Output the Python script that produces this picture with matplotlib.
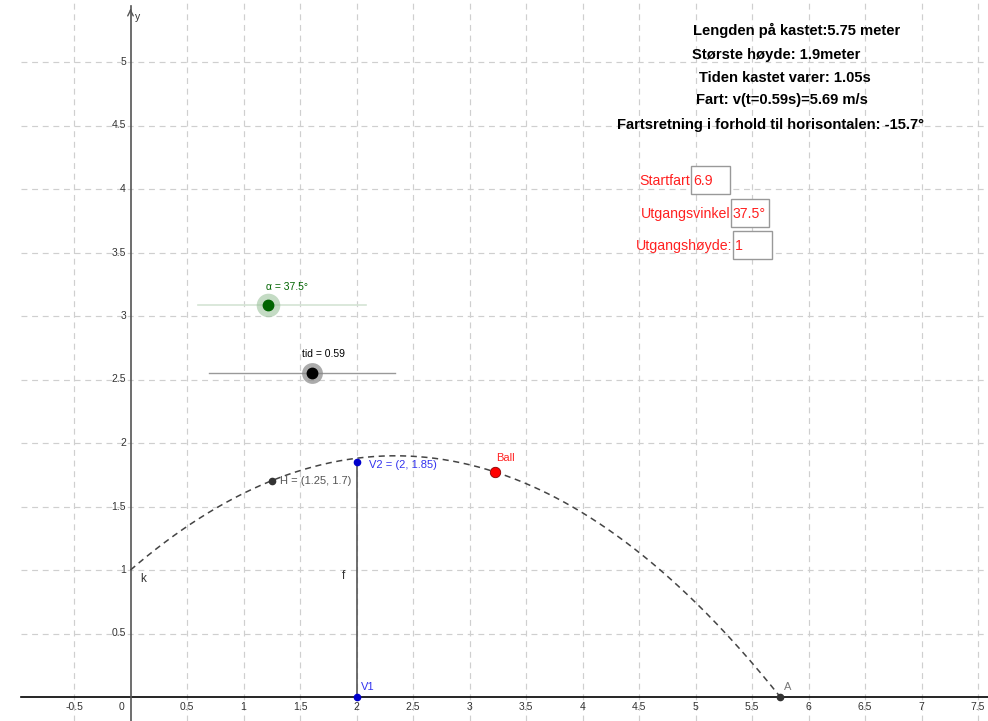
import numpy as np
import matplotlib
matplotlib.use("Agg")
import matplotlib.pyplot as plt
from matplotlib.patches import Rectangle

plt.rcParams['font.family'] = ['Liberation Sans', 'DejaVu Sans']

# ---- data ----
startfart = 6.9          # m/s
utgangsvinkel = 37.5     # degrees
utgangshoyde = 1.0       # m
tid = 0.59               # s
g = 9.81
H_point = (1.25, 1.7)
V2_point = (2, 1.85)
V1_point = (2, 0)
A_point = (5.75, 0)
alpha_slider_value = 37.5
x_tick_vals = [-0.5, 0, 0.5, 1, 1.5, 2, 2.5, 3, 3.5, 4, 4.5, 5, 5.5, 6, 6.5, 7, 7.5]
x_tick_labels = ["-0.5", "0", "0.5", "1", "1.5", "2", "2.5", "3", "3.5", "4", "4.5", "5", "5.5", "6", "6.5", "7", "7.5"]
y_tick_vals = [0.5, 1, 1.5, 2, 2.5, 3, 3.5, 4, 4.5, 5]
y_tick_labels = ["0.5", "1", "1.5", "2", "2.5", "3", "3.5", "4", "4.5", "5"]
info_lines = [
    "Lengden på kastet:5.75 meter",
    "Største høyde: 1.9meter",
    "Tiden kastet varer: 1.05s",
    "Fart: v(t=0.59s)=5.69 m/s",
    "Fartsretning i forhold til horisontalen: -15.7°",
]
input_labels = ["Startfart", "Utgangsvinkel", "Utgangshøyde:"]
input_values = ["6.9", "37.5°", "1"]

# ---- figure / pixel mapping ----
W, Hpx = 988, 721
X0, SX = 130.5, 113.0
Y0, SY = 697.0, 127.0

def px(x, y):
    return ((x - X0) / SX, (Y0 - y) / SY)

fig = plt.figure(figsize=(W / 100, Hpx / 100), dpi=100)
ax = fig.add_axes([0, 0, 1, 1])
ax.set_xlim(px(0, 0)[0], px(W, 0)[0])
ax.set_ylim(px(0, Hpx)[1], px(0, 0)[1])
ax.axis('off')

# grid
gx_left = px(21, 0)[0]
grid_kw = dict(color='#cfcfcf', lw=0.85, ls=(0, (5, 4)), zorder=0)
for xv in np.arange(-0.5, 8.0, 0.5):
    if abs(xv) < 1e-9:
        continue
    ax.axvline(xv, **grid_kw)
for yv in np.arange(0.5, 5.6, 0.5):
    ax.plot([gx_left, 8], [yv, yv], **grid_kw)

# axes lines
ax.plot([gx_left, 8], [0, 0], color='black', lw=1.2, zorder=2)
ytop = px(0, 6)[1]
ax.plot([0, 0], [-1, ytop], color='#555555', lw=1.2, zorder=2)
ax.annotate('', xy=(0, ytop), xytext=(0, px(0, 14)[1]),
            arrowprops=dict(arrowstyle='->', color='#555555', lw=1.0))
ax.text(*px(135, 17), 'y', fontsize=7.5, ha='left', va='center', color='#333333')

for v, lab in zip(x_tick_vals, x_tick_labels):
    xx = v - 0.08 if v == 0 else v
    ax.text(xx, px(0, 707)[1], lab, fontsize=7.5, ha='center', va='center', color='#333333')
for v, lab in zip(y_tick_vals, y_tick_labels):
    ax.text(px(126, 0)[0], v, lab, fontsize=7.5, ha='right', va='center', color='#333333')

# trajectory
a = np.radians(utgangsvinkel)
vx = startfart * np.cos(a)
vy = startfart * np.sin(a)
t_land = (vy + np.sqrt(vy**2 + 2 * g * utgangshoyde)) / g
tt = np.linspace(0, t_land, 300)
ax.plot(vx * tt, utgangshoyde + vy * tt - 0.5 * g * tt**2, color='#444444', lw=1.1,
        ls=(0, (4, 3)), zorder=3)
ax.text(*px(140, 579), 'k', fontsize=8.5, color='#333333', ha='left', va='center')

# segment f
ax.plot([V1_point[0], V2_point[0]], [V1_point[1], V2_point[1]], color='#555555', lw=1.2, zorder=3)
ax.text(*px(343, 576), 'f', fontsize=8.5, color='#333333', ha='center', va='center')

# points
ax.plot(*V2_point, 'o', color='#0000cc', ms=4.5, zorder=5)
ax.text(*px(369, 465), 'V2 = (2, 1.85)', fontsize=8, color='#3333ee', ha='left', va='center')
ax.plot(*V1_point, 'o', color='#0000cc', ms=4.5, zorder=5)
ax.text(*px(361, 687), 'V1', fontsize=8, color='#3333ee', ha='left', va='center')
ax.plot(*H_point, 'o', color='#333333', ms=4.5, zorder=5)
ax.text(*px(280, 481), 'H = (1.25, 1.7)', fontsize=8, color='#555555', ha='left', va='center')
ax.plot(*A_point, 'o', color='#333333', ms=4.5, zorder=5)
ax.text(*px(784, 687), 'A', fontsize=8, color='#777777', ha='left', va='center')

bx, by = vx * tid, utgangshoyde + vy * tid - 0.5 * g * tid**2
ax.plot(bx, by, 'o', color='#ff0000', mec='#880000', mew=0.6, ms=7.5, zorder=6)
ax.text(*px(496, 458), 'Ball', fontsize=8, color='#ff2222', ha='left', va='center')

# sliders
(sx1, sy1), (sx2, _) = px(198, 305), px(366, 305)
ax.plot([sx1, sx2], [sy1, sy1], color='#d4e4d4', lw=1.2, zorder=3)
hx = px(268, 0)[0]
ax.plot(hx, sy1, 'o', color='#9dc39d', alpha=0.6, ms=17, mew=0, zorder=4)
ax.plot(hx, sy1, 'o', color='#006400', ms=7.5, zorder=5)
ax.text(*px(287, 287), f'α = {alpha_slider_value}°', fontsize=7.5, color='#006400', ha='center', va='center')

(tx1, ty1), (tx2, _) = px(209, 373), px(395, 373)
ax.plot([tx1, tx2], [ty1, ty1], color='#999999', lw=1.0, zorder=3)
thx = px(312, 0)[0]
ax.plot(thx, ty1, 'o', color='#888888', alpha=0.7, ms=15, mew=0, zorder=4)
ax.plot(thx, ty1, 'o', color='black', ms=7.5, zorder=5)
ax.text(*px(323, 354), f'tid = {tid}', fontsize=7.5, color='black', ha='center', va='center')

# info text
info_pos = [(797, 30), (776, 55), (785, 78), (782, 100), (770, 125)]
for (x, y), s in zip(info_pos, info_lines):
    ax.text(*px(x, y), s, fontsize=10.6, fontweight='bold', color='black', ha='center', va='center')

# input boxes
box_rects = [(691, 166, 39, 28), (731, 199, 38, 28), (733, 231, 39, 28)]
label_right = [690, 730, 732]
for (bxp, byp, bw, bh), lr, lab, val in zip(box_rects, label_right, input_labels, input_values):
    x0d, y0d = px(bxp, byp + bh)
    ax.add_patch(Rectangle((x0d, y0d), bw / SX, bh / SY, fill=True, fc='white',
                           ec='#999999', lw=1.0, zorder=6))
    ax.text(*px(lr, byp + bh / 2 + 1), lab, fontsize=10.2, color='#ff2020', ha='right', va='center', zorder=7)
    ax.text(*px(bxp + 2, byp + bh / 2 + 1), val, fontsize=10.2, color='#ff2020', ha='left', va='center', zorder=7)

fig.savefig('out.png', dpi=100)
